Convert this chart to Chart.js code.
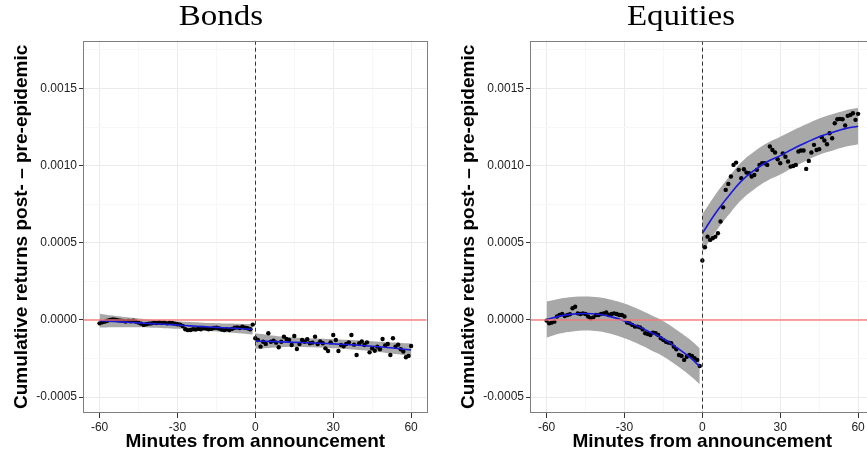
<!DOCTYPE html>
<html>
<head>
<meta charset="utf-8">
<script src="https://cdn.jsdelivr.net/npm/chart.js@4.4.1/dist/chart.umd.min.js"></script>
<style>
  html, body { margin:0; padding:0; background:#fff; overflow:hidden; width:867px; height:454px; }
  .panel { position:absolute; top:0; width:435px; height:454px; }
  .title { position:absolute; top:0; font-family:"Liberation Serif","DejaVu Serif",serif; font-size:30px; line-height:30px; color:#000; white-space:nowrap; transform:translateX(-50%) scaleX(1.1); }
</style>
</head>
<body>
<div class="panel" style="left:0px"><canvas id="c1" width="435" height="454"></canvas></div>
<div class="panel" style="left:447px"><canvas id="c2" width="435" height="454"></canvas></div>
<div class="title" style="left:221px">Bonds</div>
<div class="title" style="left:681px">Equities</div>
<script>
// ---- data (returns in units of 1e-4) ----
const minutesPre = [-60,-59,-58,-57,-56,-55,-54,-53,-52,-51,-50,-49,-48,-47,-46,-45,-44,-43,-42,-41,-40,-39,-38,-37,-36,-35,-34,-33,-32,-31,-30,-29,-28,-27,-26,-25,-24,-23,-22,-21,-20,-19,-18,-17,-16,-15,-14,-13,-12,-11,-10,-9,-8,-7,-6,-5,-4,-3,-2,-1];
const minutesPost = [0,1,2,3,4,5,6,7,8,9,10,11,12,13,14,15,16,17,18,19,20,21,22,23,24,25,26,27,28,29,30,31,32,33,34,35,36,37,38,39,40,41,42,43,44,45,46,47,48,49,50,51,52,53,54,55,56,57,58,59,60];
const fitMinutesPre = [-60,-55,-50,-45,-40,-35,-30,-25,-20,-15,-10,-5,-1];
const fitMinutesPost = [0,5,10,15,20,25,30,35,40,45,50,55,60];

const bondsPre = [-0.22,-0.15,-0.11,-0.05,0.00,0.04,0.02,-0.02,-0.04,-0.06,-0.10,-0.06,-0.08,-0.05,-0.10,-0.17,-0.24,-0.32,-0.28,-0.24,-0.22,-0.18,-0.20,-0.16,-0.20,-0.17,-0.22,-0.18,-0.20,-0.24,-0.28,-0.30,-0.39,-0.60,-0.66,-0.65,-0.60,-0.62,-0.58,-0.60,-0.54,-0.56,-0.60,-0.58,-0.52,-0.50,-0.55,-0.62,-0.66,-0.60,-0.65,-0.58,-0.50,-0.48,-0.52,-0.43,-0.50,-0.54,-0.60,-0.30];
const bondsPost = [-1.19,-1.30,-1.73,-1.41,-1.55,-0.86,-1.41,-1.35,-1.47,-1.77,-1.41,-1.08,-1.23,-1.30,-1.62,-1.04,-1.88,-1.56,-1.30,-1.41,-1.25,-1.51,-1.47,-1.08,-1.56,-1.40,-1.51,-1.84,-2.01,-1.45,-0.97,-1.30,-2.01,-1.62,-1.70,-1.56,-1.45,-0.97,-1.60,-2.27,-1.51,-1.40,-1.62,-1.45,-2.10,-1.84,-2.00,-1.73,-1.90,-1.23,-1.65,-1.56,-2.27,-1.19,-1.73,-1.60,-1.90,-2.05,-2.42,-2.33,-1.69];
const bondsFitPre = [-0.04,-0.09,-0.14,-0.19,-0.24,-0.28,-0.33,-0.38,-0.43,-0.48,-0.52,-0.57,-0.61];
const bondsUpperPre = [0.41,0.29,0.19,0.10,0.02,-0.03,-0.09,-0.14,-0.18,-0.21,-0.23,-0.26,-0.27];
const bondsLowerPre = [-0.49,-0.47,-0.47,-0.48,-0.50,-0.53,-0.57,-0.62,-0.68,-0.75,-0.81,-0.88,-0.95];
const bondsFitPost = [-1.36,-1.39,-1.42,-1.45,-1.48,-1.51,-1.55,-1.59,-1.64,-1.70,-1.77,-1.85,-1.95];
const bondsUpperPost = [-0.86,-0.97,-1.07,-1.14,-1.19,-1.22,-1.25,-1.29,-1.33,-1.38,-1.43,-1.48,-1.53];
const bondsLowerPost = [-1.86,-1.81,-1.77,-1.76,-1.77,-1.79,-1.84,-1.89,-1.95,-2.03,-2.12,-2.23,-2.37];

const equitiesPre = [-0.04,-0.22,-0.17,-0.11,0.22,0.32,0.39,0.26,0.32,0.37,0.76,0.86,0.43,0.39,0.43,0.39,0.22,0.11,0.17,0.32,0.32,0.39,0.43,0.48,0.32,0.39,0.43,0.39,0.32,0.32,0.22,-0.17,-0.22,-0.32,-0.43,-0.43,-0.48,-0.61,-0.86,-0.91,-0.97,-0.82,-0.86,-0.97,-1.19,-1.30,-1.41,-1.47,-1.51,-1.73,-1.90,-2.27,-2.33,-2.59,-2.38,-2.27,-2.33,-2.48,-2.59,-2.98];
const equitiesPost = [3.85,4.71,5.40,5.19,5.30,5.40,5.62,6.38,7.30,8.43,8.82,9.30,10.05,10.20,9.73,9.19,9.77,9.55,9.51,9.30,9.40,9.73,10.05,10.16,10.16,10.05,11.24,11.02,10.85,10.42,10.16,10.80,10.58,10.27,9.94,9.98,10.05,10.92,10.98,10.98,9.79,10.31,10.85,11.35,11.02,11.07,11.85,11.63,11.39,12.10,11.78,12.75,13.01,13.03,13.01,12.60,13.23,13.29,13.40,12.97,13.36];
const equitiesFitPre = [0.02,0.25,0.38,0.42,0.37,0.20,-0.06,-0.40,-0.80,-1.22,-1.78,-2.40,-3.00];
const equitiesUpperPre = [1.19,1.38,1.49,1.52,1.47,1.31,1.06,0.73,0.34,-0.08,-0.63,-1.24,-1.84];
const equitiesLowerPre = [-1.15,-0.88,-0.74,-0.68,-0.73,-0.91,-1.18,-1.53,-1.94,-2.36,-2.93,-3.56,-4.16];
const equitiesFitPost = [5.62,6.90,8.00,9.00,9.70,10.25,10.65,11.10,11.50,11.88,12.15,12.40,12.56];
const equitiesUpperPost = [6.85,8.12,9.22,10.22,10.92,11.47,11.88,12.30,12.68,13.05,13.33,13.58,13.73];
const equitiesLowerPost = [4.40,5.68,6.78,7.78,8.48,9.03,9.42,9.90,10.32,10.71,10.97,11.22,11.39];

const xTicks = [-60,-45,-30,-15,0,15,30,45,60];
const yTicks = [-0.0005,-0.00025,0,0.00025,0.0005,0.00075,0.001,0.00125,0.0015,0.00175];
const zeroLine = [0];      // horizontal reference (y)
const eventLine = [0];     // vertical announcement (x)
const UNIT = 1e-4;

function pts(xs, ys) { return xs.map((x, i) => ({ x: x, y: ys[i] * UNIT })); }

const refPlugin = {
  id: 'refLines',
  afterDatasetsDraw(chart) {
    const { ctx, chartArea: a, scales: { x, y } } = chart;
    ctx.save();
    ctx.beginPath(); ctx.rect(a.left, a.top, a.right - a.left, a.bottom - a.top); ctx.clip();
    ctx.strokeStyle = 'rgba(248,118,118,0.9)'; ctx.lineWidth = 1.5;
    zeroLine.forEach(v => { const py = y.getPixelForValue(v); ctx.beginPath(); ctx.moveTo(a.left, py); ctx.lineTo(a.right, py); ctx.stroke(); });
    ctx.strokeStyle = '#333'; ctx.lineWidth = 1; ctx.setLineDash([4, 3]);
    eventLine.forEach(v => { const px = Math.round(x.getPixelForValue(v)) + 0.5; ctx.beginPath(); ctx.moveTo(px, a.top); ctx.lineTo(px, a.bottom); ctx.stroke(); });
    ctx.restore();
  },
  afterDraw(chart) {
    const { ctx, chartArea: a } = chart;
    ctx.save(); ctx.strokeStyle = '#7f7f7f'; ctx.lineWidth = 1;
    ctx.strokeRect(Math.round(a.left) - 0.5, Math.round(a.top) + 0.5, Math.round(a.right - a.left) + 1, Math.round(a.bottom - a.top) - 1);
    ctx.restore();
  }
};

function makeChart(id, pre, post, fitPre, upPre, loPre, fitPost, upPost, loPost) {
  const ribbon = '#a8a8a8';
  const lineDs = (data, extra) => Object.assign({ data: data, showLine: true, pointRadius: 0, borderWidth: 0, tension: 0.4, fill: false }, extra);
  const tickFont = { family: 'Liberation Sans', size: 12 };
  const titleFont = { family: 'Liberation Sans', size: 19, weight: 'bold', lineHeight: 1 };
  new Chart(document.getElementById(id), {
    type: 'scatter',
    data: {
      datasets: [
        lineDs(pts(fitMinutesPre, loPre), { order: 3 }),
        lineDs(pts(fitMinutesPre, upPre), { order: 3, fill: '-1', backgroundColor: ribbon }),
        lineDs(pts(fitMinutesPost, loPost), { order: 3 }),
        lineDs(pts(fitMinutesPost, upPost), { order: 3, fill: '-1', backgroundColor: ribbon }),
        { data: pts(minutesPre, pre), pointRadius: 2.2, backgroundColor: '#000', borderWidth: 0, order: 2 },
        { data: pts(minutesPost, post), pointRadius: 2.2, backgroundColor: '#000', borderWidth: 0, order: 2 },
        lineDs(pts(fitMinutesPre, fitPre), { order: 1, borderWidth: 1.6, borderColor: '#1a1adc' }),
        lineDs(pts(fitMinutesPost, fitPost), { order: 1, borderWidth: 1.6, borderColor: '#1a1adc' })
      ]
    },
    options: {
      responsive: false, animation: false, devicePixelRatio: 1,
      layout: { padding: { top: 40.7, right: 8.3, left: 0, bottom: 0 } },
      plugins: { legend: { display: false }, tooltip: { enabled: false }, title: { display: false } },
      scales: {
        x: {
          type: 'linear', min: -66, max: 66,
          afterBuildTicks(s) { s.ticks = xTicks.map(v => ({ value: v })); },
          afterFit(s) { s.height = 41; },
          ticks: { autoSkip: false, maxRotation: 0, padding: 2, color: '#222', font: tickFont,
                   callback: (v, i) => (i % 2 === 0 ? String(v) : '') },
          grid: { color: c => (c.index % 2 === 0 ? '#ebebeb' : '#f7f7f7'), lineWidth: 1,
                  tickColor: c => (c.index % 2 === 0 ? '#333' : 'rgba(0,0,0,0)'), tickLength: 5 },
          border: { display: false },
          title: { display: true, text: 'Minutes from announcement', color: '#000', font: titleFont, padding: { top: 0, bottom: 3 } }
        },
        y: {
          type: 'linear', min: -0.000603, max: 0.00181,
          afterBuildTicks(s) { s.ticks = yTicks.map(v => ({ value: v })); },
          afterFit(s) { s.width = 84; },
          ticks: { autoSkip: false, padding: 2, color: '#222', font: tickFont,
                   callback: (v, i) => (i % 2 === 0 ? v.toFixed(4) : '') },
          grid: { color: c => (c.index % 2 === 0 ? '#ebebeb' : '#f7f7f7'), lineWidth: 1,
                  tickColor: c => (c.index % 2 === 0 ? '#333' : 'rgba(0,0,0,0)'), tickLength: 5 },
          border: { display: false },
          title: { display: true, text: 'Cumulative returns post- \u2013 pre-epidemic', color: '#000', font: titleFont, padding: { top: 12, bottom: 0 } }
        }
      }
    },
    plugins: [refPlugin]
  });
}

makeChart('c1', bondsPre, bondsPost, bondsFitPre, bondsUpperPre, bondsLowerPre, bondsFitPost, bondsUpperPost, bondsLowerPost);
makeChart('c2', equitiesPre, equitiesPost, equitiesFitPre, equitiesUpperPre, equitiesLowerPre, equitiesFitPost, equitiesUpperPost, equitiesLowerPost);
</script>
</body>
</html>
